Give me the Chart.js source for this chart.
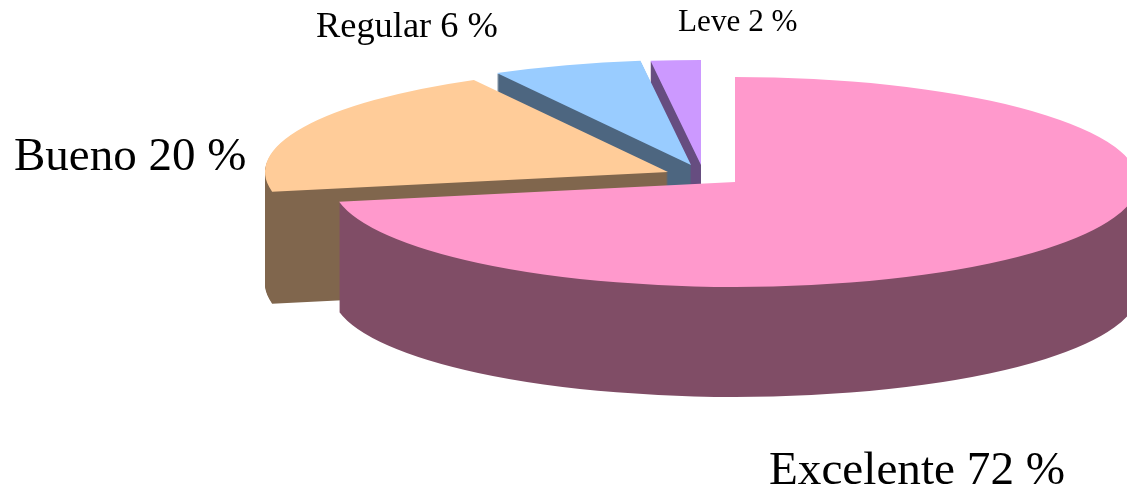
<!DOCTYPE html>
<html>
<head>
<meta charset="utf-8">
<style>html,body{margin:0;padding:0;background:#fff;overflow:hidden}canvas{display:block}</style>
<script src="https://cdn.jsdelivr.net/npm/chart.js@4"></script>
</head>
<body>
<canvas id="c" width="1127" height="490"></canvas>
<script>
const categories = ["Excelente", "Bueno", "Regular", "Leve"];
const values = [72, 20, 6, 2];
const topColors = ["#FF99CC", "#FFCC99", "#99CCFF", "#CC99FF"];
const wallColors = ["#804D66", "#80664D", "#4D6680", "#664D80"];
const sliceCentersX = [735, 668, 691, 701];
const sliceCentersY = [182, 172, 165, 165];
const sliceDepths = [110, 112, 110, 110];
const labelFonts = [47.2, 47, 36.4, 31.2];
const labelX = [769, 14, 316, 678];
const labelY = [484, 170, 37, 31];
const radiusX = 403, radiusY = 105;
const drawOrder = [3, 2, 1, 0];

const pie3d = {
  id: "pie3d",
  beforeDatasetsDraw(chart) {
    const ctx = chart.ctx;
    const w = chart.canvas.width, h = chart.canvas.height;
    const arcs = chart.getDatasetMeta(0).data;
    const place = (c, el, i, dy) => {
      c.translate(sliceCentersX[i], sliceCentersY[i] + dy);
      c.scale(radiusX / el.outerRadius, radiusY / el.outerRadius);
      c.translate(-el.x, -el.y);
    };
    drawOrder.forEach(i => {
      const el = arcs[i];
      const layer = document.createElement("canvas");
      layer.width = w; layer.height = h;
      const lc = layer.getContext("2d");
      const base = el.options;
      el.options = Object.assign(Object.create(base), { backgroundColor: wallColors[i] });
      for (let d = sliceDepths[i]; d > 0; d--) {
        lc.save(); place(lc, el, i, d); el.draw(lc); lc.restore();
      }
      el.options = base;
      // Stacked antialiased edges drift by a shade: flatten the wall to its one colour.
      lc.globalCompositeOperation = "source-in";
      lc.fillStyle = wallColors[i];
      lc.fillRect(0, 0, w, h);
      lc.globalCompositeOperation = "source-over";
      lc.save(); place(lc, el, i, 0); el.draw(lc); lc.restore();
      ctx.drawImage(layer, 0, 0);
    });
    return false;
  },
  afterDraw(chart) {
    const ctx = chart.ctx;
    ctx.save();
    ctx.fillStyle = "#000";
    ctx.textBaseline = "alphabetic";
    ctx.textAlign = "left";
    categories.forEach((c, i) => {
      ctx.font = labelFonts[i] + 'px "Liberation Serif", "Times New Roman", serif';
      ctx.fillText(c + " " + values[i] + " %", labelX[i], labelY[i]);
    });
    ctx.restore();
  }
};

new Chart(document.getElementById("c"), {
  type: "pie",
  data: {
    labels: categories,
    datasets: [{ data: values, backgroundColor: topColors, borderWidth: 0, hoverOffset: 0 }]
  },
  options: {
    responsive: false,
    animation: false,
    layout: { padding: 0 },
    rotation: 0,
    plugins: { legend: { display: false }, tooltip: { enabled: false }, title: { display: false } }
  },
  plugins: [pie3d]
});
</script>
</body>
</html>
